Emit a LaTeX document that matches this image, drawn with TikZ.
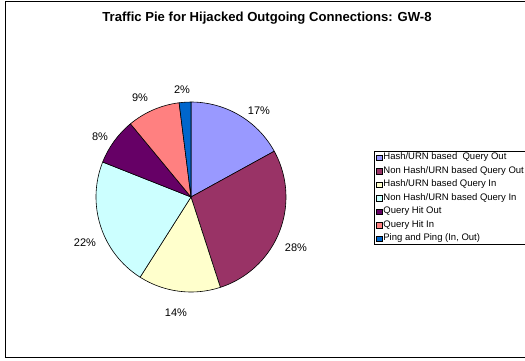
\documentclass[tikz,border=0pt]{standalone}
\usepackage{fontspec}
\setmainfont{Liberation Sans}
\usepackage{xcolor}
\usepackage{tikz}
\usetikzlibrary{positioning}

\definecolor{pieA}{HTML}{9999FF}
\definecolor{pieB}{HTML}{993366}
\definecolor{pieC}{HTML}{FFFFCC}
\definecolor{pieD}{HTML}{CCFFFF}
\definecolor{pieE}{HTML}{660066}
\definecolor{pieF}{HTML}{FF8080}
\definecolor{pieG}{HTML}{0066CC}

\begin{document}
\begin{tikzpicture}[
    x=1bp, y=-1bp,
    slice/.style={draw=black, line width=0.6bp, line join=round},
    pct/.style={font=\fontsize{11bp}{13bp}\selectfont, inner sep=0pt},
    key/.style={draw=black, line width=0.5bp, minimum size=5.5bp, inner sep=0pt},
    keytext/.style={font=\fontsize{9.5bp}{11bp}\selectfont, inner sep=0pt, anchor=west}
]
\useasboundingbox (0,0) rectangle (525,360);
\fill[white] (0,0) rectangle (525,360);
% chart frame
\draw[line width=0.9bp] (530,1) -- (5,1) -- (5,357) -- (530,357);
\node[font=\bfseries\fontsize{13.1bp}{15bp}\selectfont] (title) at (267,18) {Traffic Pie for Hijacked Outgoing Connections: GW-8};

% pie, clockwise from the top
\coordinate (pc) at (191,197);
\foreach \a/\b/\c in {-90/-28.8/pieA, -28.8/72/pieB, 72/122.4/pieC, 122.4/201.6/pieD,
                      201.6/230.4/pieE, 230.4/262.8/pieF, 262.8/270/pieG}
  \draw[slice, fill=\c] (pc) -- ++(\a:95) arc[start angle=\a, end angle=\b, radius=95] -- cycle;

\node[pct] (p17) at (259,111) {17\%};
\node[pct] (p28) at (296,248) {28\%};
\node[pct] (p14) at (176,313) {14\%};
\node[pct] (p22) at (85,243) {22\%};
\node[pct] (p8) at (100,137) {8\%};
\node[pct] (p9) at (140,98) {9\%};
\node[pct] (p2) at (182,90) {2\%};

% legend
\draw[line width=0.6bp] (530,151) -- (374,151) -- (374,244) -- (530,244);
\node[key, fill=pieA] (kA) at (379,157.5) {};
\node[key, fill=pieB] (kB) at (379,171) {};
\node[key, fill=pieC] (kC) at (379,184.5) {};
\node[key, fill=pieD] (kD) at (379,198) {};
\node[key, fill=pieE] (kE) at (379,211.5) {};
\node[key, fill=pieF] (kF) at (379,225) {};
\node[key, fill=pieG] (kG) at (379,238.5) {};
\node[keytext, right=1.2bp of kA] (tA) {Hash/URN based\ \ Query Out};
\node[keytext, right=1.2bp of kB] (tB) {Non Hash/URN based Query Out};
\node[keytext, right=1.2bp of kC] (tC) {Hash/URN based Query In};
\node[keytext, right=1.2bp of kD] (tD) {Non Hash/URN based Query In};
\node[keytext, right=1.2bp of kE] (tE) {Query Hit Out};
\node[keytext, right=1.2bp of kF] (tF) {Query Hit In};
\node[keytext, right=1.2bp of kG] (tG) {Ping and Ping (In, Out)};
\end{tikzpicture}
\end{document}
